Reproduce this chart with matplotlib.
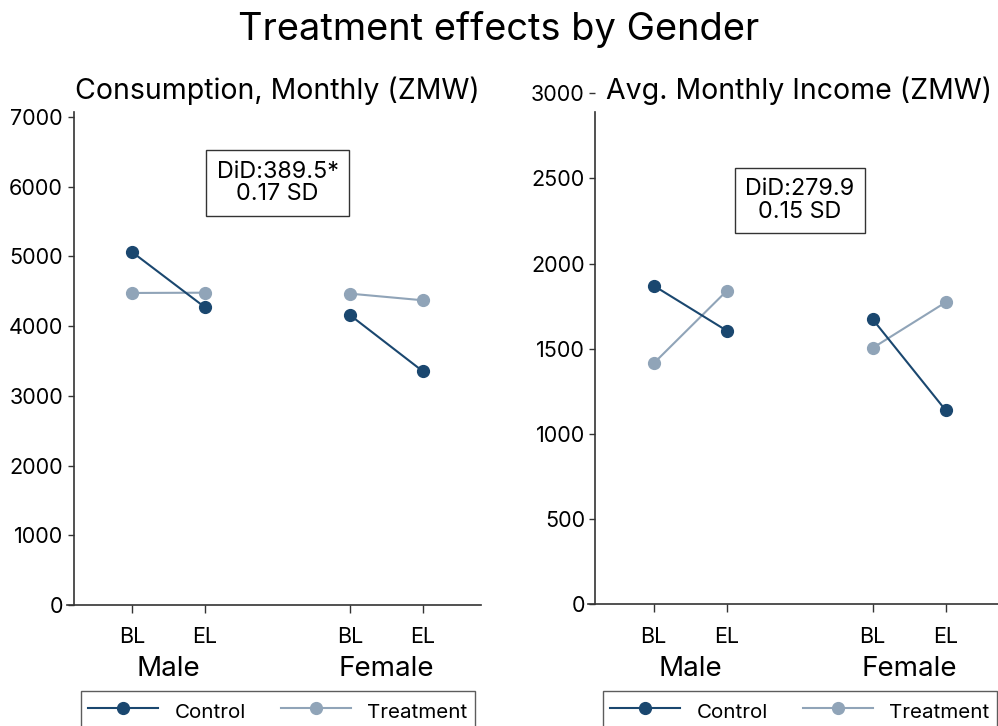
import matplotlib
matplotlib.use('Agg')

import matplotlib.pyplot as plt
from matplotlib.lines import Line2D

plt.rcParams['font.family'] = ['Inter', 'DejaVu Sans']

NAVY = "#1a476f"
LTBLUE = "#90a4b8"

# x positions: Male BL, Male EL, Female BL, Female EL
POS = [1, 2, 4, 5]
PERIODS = ["BL", "EL", "BL", "EL"]
GROUPS = ["Male", "Female"]
GROUP_POS = [1.5, 4.5]

# consumption, monthly (ZMW)
cons_control = [5060, 4270, 4156, 3352]
cons_treat = [4476, 4480, 4466, 4371]
cons_did = "DiD:389.5*\n0.17 SD"

# avg. monthly income (ZMW)
inc_control = [1870, 1606, 1673, 1139]
inc_treat = [1414, 1839, 1504, 1772]
inc_did = "DiD:279.9\n0.15 SD"

W, H = 998, 726


def panel(ax, control, treat, yticks, ylim, spine_top, ypos, did, did_y):
    for i in (0, 2):
        ax.plot(POS[i:i + 2], treat[i:i + 2], "-o", color=LTBLUE, lw=1.5, ms=8.5, zorder=2)
        ax.plot(POS[i:i + 2], control[i:i + 2], "-o", color=NAVY, lw=1.5, ms=8.5, zorder=3)
    ax.set_xlim(0.1, 5.8)
    ax.set_ylim(*ylim)
    ax.spines["top"].set_visible(False)
    ax.spines["right"].set_visible(False)
    ax.spines["left"].set_position(("data", ypos))
    ax.spines["left"].set_bounds(0, spine_top)
    for s in ("left", "bottom"):
        ax.spines[s].set_color("#333333")
        ax.spines[s].set_linewidth(1.2)
    ax.set_yticks(yticks)
    ax.set_xticks(POS, PERIODS)
    ax.tick_params(axis="y", length=4.5, width=1, pad=3, labelsize=15.5, color="#333333")
    ax.tick_params(axis="x", length=6, width=1, pad=10, labelsize=15.5, color="#333333")
    sec = ax.secondary_xaxis("bottom")
    sec.set_xticks(GROUP_POS, GROUPS)
    sec.tick_params(length=0, pad=37, labelsize=20)
    sec.spines["bottom"].set_visible(False)
    ax.text(3, did_y, did, ha="center", va="center", fontsize=16.8, linespacing=1.05,
            bbox=dict(boxstyle="square,pad=0.45", fc="white", ec="#333333", lw=1))


fig = plt.figure(figsize=(W / 100, H / 100), dpi=100)

ax1 = fig.add_axes([67 / W, 1 - 605 / H, 414 / W, (605 - 112) / H])
panel(ax1, cons_control, cons_treat,
      [0, 1000, 2000, 3000, 4000, 5000, 6000, 7000], (0, 7072), 7072, 0.19, cons_did, 6054)

ax2 = fig.add_axes([588 / W, 1 - 604.3 / H, 416 / W, (604.3 - 93.1) / H])
panel(ax2, inc_control, inc_treat,
      [0, 500, 1000, 1500, 2000, 2500, 3000], (0, 3000), 2890, 0.2, inc_did, 2370)

fig.text(277 / W, 1 - 99 / H, "Consumption, Monthly (ZMW)", ha="center", va="baseline", fontsize=20.5)
fig.text(799 / W, 1 - 99 / H, "Avg. Monthly Income (ZMW)", ha="center", va="baseline", fontsize=20.5)

handles = [
    Line2D([], [], color=NAVY, marker="o", lw=1.5, ms=8.5, label="Control"),
    Line2D([], [], color=LTBLUE, marker="o", lw=1.5, ms=8.5, label="Treatment"),
]
for cx in (278 / W, 800 / W):
    leg = fig.legend(handles=handles, loc="upper center", bbox_to_anchor=(cx, 1 - 691 / H),
                     ncol=2, fontsize=14.8, frameon=True, fancybox=False,
                     handlelength=3.4, handletextpad=0.8, columnspacing=1.7,
                     handleheight=1.5, borderpad=0.35, borderaxespad=0)
    leg.get_frame().set_edgecolor("#333333")
    leg.get_frame().set_linewidth(1)

fig.text(0.5, 1 - 40 / H, "Treatment effects by Gender", ha="center", va="baseline", fontsize=27.4)

plt.savefig("out.png", dpi=100)
